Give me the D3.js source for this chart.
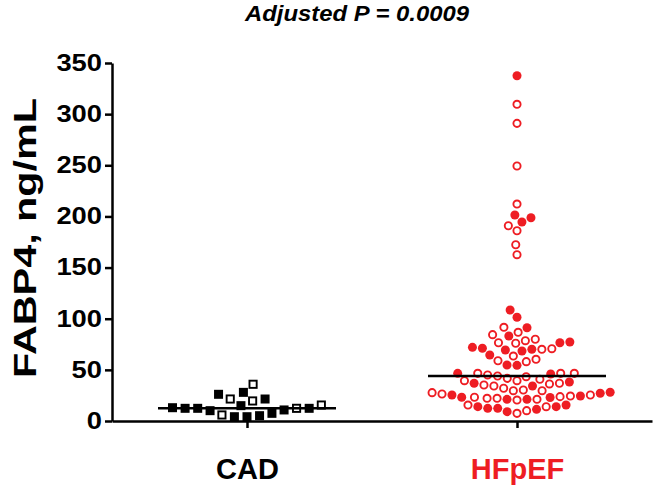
<!DOCTYPE html>
<html><head><meta charset="utf-8">
<script src="https://cdn.jsdelivr.net/npm/d3@7"></script>
<style>body{margin:0;background:#fff} svg{display:block}</style>
</head><body>
<svg id="chart" width="654" height="491"></svg>
<script>
// ---------- data ----------
const categories = ["CAD", "HFpEF"];
const categoryColors = ["#000000", "#ee1d23"];
const yTicks = [0, 50, 100, 150, 200, 250, 300, 350];
const titleText = "Adjusted P = 0.0009";
const yLabelText = "FABP4, ng/mL";

// CAD values (ng/mL) and whether the marker is open (1) or filled (0)
const cadValues = [4.2, 4.2, 5.2, 5.9, 7.5, 10.1, 10.8, 12.4, 12.4, 12.4, 12.4, 13.0, 15.0, 15.6, 19.6, 21.5, 21.5, 26.1, 28.0, 35.9];
const cadOpen   = [0,   0,   0,   1,   0,   0,    0,    0,    1,    0,    0,    0,    0,    1,    1,    1,    0,    0,    0,    1];

// HFpEF values (ng/mL) and open/filled flags
const hfpefValues = [7.5, 9.1, 10.1, 11.4, 12.4, 12.4, 14.0, 14.0, 14.0, 15.6, 15.6,
  20.5, 21.2, 21.2, 21.2, 22.2, 22.2, 23.2, 23.2, 23.0, 23.8, 24.4, 24.4, 25.4, 25.4, 26.4, 27.1, 27.7, 28.1, 29.6, 29.6, 30.3,
  32.0, 34.2, 34.2, 35.2, 36.2, 36.9, 36.9, 38.1, 39.4, 39.4, 40.8, 41.7, 43.3, 44.0, 45.0, 45.9, 46.6, 46.6, 46.6, 46.6,
  54.4, 54.7, 58.0, 58.9, 60.3, 63.5, 64.5, 68.4, 69.4, 70.1, 70.1, 70.7, 71.1, 72.0, 76.0, 76.5, 76.5, 77.2, 78.5, 79.9,
  83.1, 84.4, 86.7, 91.2, 91.6, 101.4, 108.5,
  162.6, 172.3, 186.0, 190.9, 194.5, 198.7, 201.4, 212.1, 249.3, 291.0, 309.6, 337.5];
const hfpefOpen = [1, 0, 1, 0, 0, 0, 1, 0, 0, 1, 0,
  1, 0, 0, 1, 1, 1, 1, 0, 0, 1, 1, 0, 0, 1, 1, 0, 1, 0, 1, 1, 1,
  1, 0, 1, 1, 1, 1, 0, 0, 1, 1, 1, 1, 1, 1, 1, 0, 1, 1, 1, 0,
  0, 0, 1, 1, 1, 1, 0, 0, 0, 0, 1, 1, 0, 0, 1, 1, 0, 0, 1, 1,
  0, 1, 1, 0, 1, 0, 0,
  1, 1, 1, 1, 0, 0, 0, 1, 1, 1, 1, 0];

// ---------- layout ----------
const svg = d3.select("#chart");
const FONT = "'Liberation Sans', Arial, Helvetica, sans-serif";
const plotLeft = 112, plotRight = 652, plotTop = 63, plotBottom = 421;

const y = d3.scaleLinear().domain([0, 350]).range([plotBottom, plotTop]);
const x = d3.scalePoint().domain(categories).range([plotLeft, plotRight]).padding(0.5);

// greedy beeswarm: returns pixel x offsets from the category centre
function swarm(values, D) {
  const order = d3.range(values.length).sort((a, b) => values[a] - values[b]);
  const placed = [];
  const dx = new Array(values.length);
  for (const i of order) {
    const yi = y(values[i]);
    const near = placed.filter(p => Math.abs(p.y - yi) < D);
    const cands = [0];
    for (const p of near) {
      const h = Math.sqrt(D * D - (p.y - yi) ** 2);
      cands.push(p.x + h, p.x - h);
    }
    cands.sort((a, b) => Math.abs(a) - Math.abs(b) || a - b);
    let xi = 0;
    for (const c of cands) {
      if (near.every(p => (p.x - c) ** 2 + (p.y - yi) ** 2 >= D * D - 1e-6)) { xi = c; break; }
    }
    placed.push({ x: xi, y: yi });
    dx[i] = xi;
  }
  return dx;
}

// ---------- axes ----------
const yAxis = svg.append("g")
  .attr("transform", `translate(${plotLeft},0)`)
  .call(d3.axisLeft(y).tickValues(yTicks).tickSize(7).tickSizeOuter(0).tickPadding(3));
yAxis.select(".domain").attr("stroke", "#000").attr("stroke-width", 2.5);
yAxis.selectAll(".tick line").attr("stroke", "#000").attr("stroke-width", 2.5);
yAxis.selectAll(".tick text")
  .attr("font-family", FONT).attr("font-weight", "bold").attr("font-size", 23)
  .attr("fill", "#000")
  .attr("textLength", d => String(d).length * 15.2)
  .attr("lengthAdjust", "spacingAndGlyphs");

const xAxis = svg.append("g")
  .attr("transform", `translate(0,${plotBottom})`)
  .call(d3.axisBottom(x).tickSize(7).tickSizeOuter(0).tickPadding(30));
xAxis.select(".domain").attr("stroke", "#000").attr("stroke-width", 2.5);
xAxis.selectAll(".tick line").attr("stroke", "#000").attr("stroke-width", 2.5);
xAxis.selectAll(".tick text")
  .attr("font-family", FONT).attr("font-weight", "bold").attr("font-size", 29)
  .attr("fill", (d, i) => categoryColors[i]);

// ---------- points ----------
const cadDx = swarm(cadValues, 12.6);
const hfDx = swarm(hfpefValues, 10.0);

const cadG = svg.append("g");
cadValues.forEach((v, i) => {
  const cx = x("CAD") + cadDx[i], cy = y(v);
  if (cadOpen[i]) {
    cadG.append("rect").attr("x", cx - 3.6).attr("y", cy - 3.6).attr("width", 7.2).attr("height", 7.2)
      .attr("fill", "#fff").attr("stroke", "#000").attr("stroke-width", 1.9);
  } else {
    cadG.append("rect").attr("x", cx - 4.5).attr("y", cy - 4.5).attr("width", 9).attr("height", 9)
      .attr("fill", "#000");
  }
});

const hfG = svg.append("g");
hfpefValues.forEach((v, i) => {
  const cx = x("HFpEF") + hfDx[i], cy = y(v);
  if (hfpefOpen[i]) {
    hfG.append("circle").attr("cx", cx).attr("cy", cy).attr("r", 3.6)
      .attr("fill", "#fff").attr("stroke", categoryColors[1]).attr("stroke-width", 1.9);
  } else {
    hfG.append("circle").attr("cx", cx).attr("cy", cy).attr("r", 4.5)
      .attr("fill", categoryColors[1]);
  }
});

// medians
[[cadValues, "CAD"], [hfpefValues, "HFpEF"]].forEach(([vals, c]) => {
  const m = d3.median(vals);
  svg.append("line")
    .attr("x1", x(c) - 89).attr("x2", x(c) + 89)
    .attr("y1", y(m)).attr("y2", y(m))
    .attr("stroke", "#000").attr("stroke-width", 2.5);
});

// ---------- titles ----------
svg.append("text")
  .attr("x", 357).attr("y", 21)
  .attr("text-anchor", "middle")
  .attr("font-family", FONT).attr("font-weight", "bold").attr("font-style", "italic")
  .attr("font-size", 22)
  .attr("textLength", 224).attr("lengthAdjust", "spacingAndGlyphs")
  .text(titleText);

svg.append("text")
  .attr("transform", `translate(36,238) rotate(-90)`)
  .attr("text-anchor", "middle")
  .attr("font-family", FONT).attr("font-weight", "bold")
  .attr("font-size", 32)
  .attr("textLength", 280).attr("lengthAdjust", "spacingAndGlyphs")
  .text(yLabelText);
</script>
</body></html>
